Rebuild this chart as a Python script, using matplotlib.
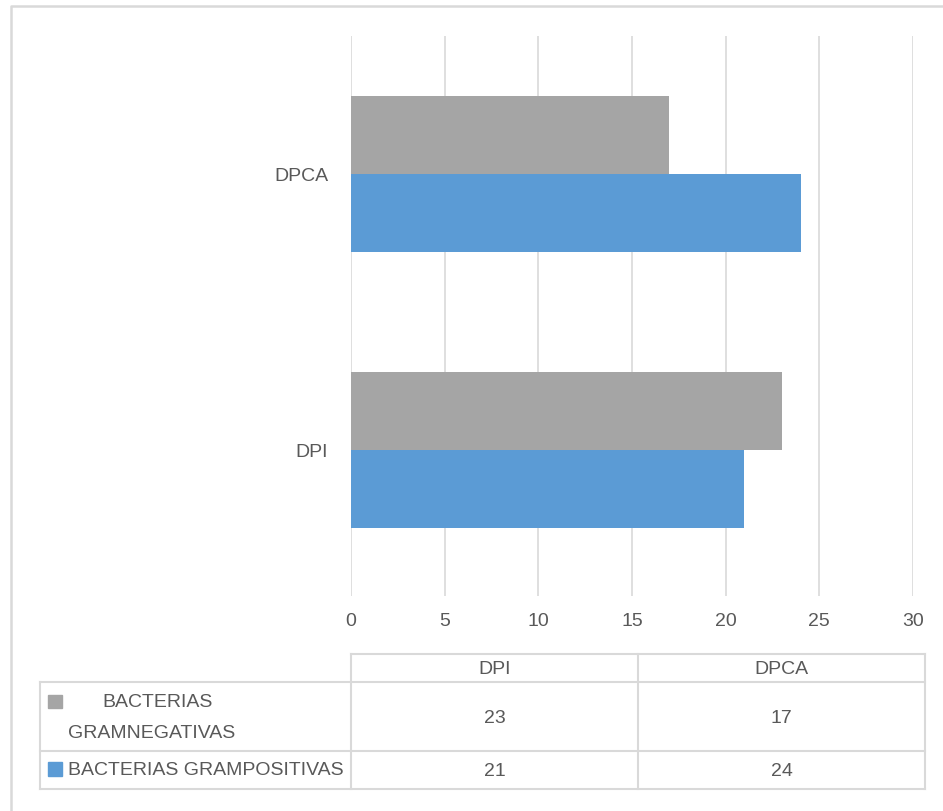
import matplotlib.pyplot as plt
from matplotlib.patches import Rectangle

categories = ["DPI", "DPCA"]
series_names = ["BACTERIAS GRAMPOSITIVAS", "BACTERIAS\nGRAMNEGATIVAS"]
grampositivas = [21, 24]
gramnegativas = [23, 17]
xticks = [0, 5, 10, 15, 20, 25, 30]

blue = "#5b9bd5"
gray = "#a5a5a5"
txt = "#595959"
grid = "#d9d9d9"

plt.rcParams["font.family"] = ["Liberation Sans", "DejaVu Sans"]

W, H = 943, 812
fig = plt.figure(figsize=(W / 100, H / 100), dpi=100)

# overlay for border + table, pixel coords
bg = fig.add_axes([0, 0, 1, 1])
bg.set_xlim(0, W)
bg.set_ylim(H, 0)
bg.axis("off")
bg.plot([11, 11, W], [H, 7, 7], color=grid, lw=1.8)

# bar chart
ax = fig.add_axes([351 / W, 1 - 597 / H, (913 - 351) / W, (597 - 37) / H])
ax.patch.set_alpha(0)
h = 0.283
ypos = list(range(len(categories)))
ax.barh([y - h / 2 for y in ypos], grampositivas, height=h, color=blue, zorder=3)
ax.barh([y + h / 2 for y in ypos], gramnegativas, height=h, color=gray, zorder=3)
ax.set_xlim(0, 30)
ax.set_ylim(-0.53, 1.5)
ax.set_xticks(xticks)
ax.set_yticks(ypos)
ax.set_yticklabels(categories)
ax.grid(axis="x", color=grid, lw=1.2, zorder=0)
for s in ax.spines.values():
    s.set_visible(False)
ax.tick_params(length=0, labelsize=14, colors=txt)
ax.tick_params(axis="x", pad=11.5)
ax.tick_params(axis="y", pad=16.5)

# data table
x0, x1, x2, x3 = 40, 351, 638, 925
y0, y1, y2, y3 = 655, 683, 752, 790
lc = grid
lw = 1.5
bg.plot([x1, x3], [y0, y0], color=lc, lw=lw)
for yy in (y1, y2, y3):
    bg.plot([x0, x3], [yy, yy], color=lc, lw=lw)
bg.plot([x0, x0], [y1, y3], color=lc, lw=lw)
for xx in (x1, x2, x3):
    bg.plot([xx, xx], [y0, y3], color=lc, lw=lw)

cx = [(x1 + x2) / 2, (x2 + x3) / 2]
for i, c in enumerate(categories):
    bg.text(cx[i], (y0 + y1) / 2 + 1, c, ha="center", va="center", fontsize=14, color=txt)

rows = [(gramnegativas, gray, (y1, y2)), (grampositivas, blue, (y2, y3))]
for vals, col, (ya, yb) in rows:
    for i, v in enumerate(vals):
        bg.text(cx[i], (ya + yb) / 2 + 1, str(v), ha="center", va="center", fontsize=14, color=txt)

bg.add_patch(Rectangle((48, 696), 14, 13, color=gray))
bg.text(102, 703, "BACTERIAS", ha="left", va="center", fontsize=14, color=txt)
bg.text(68, 734, "GRAMNEGATIVAS", ha="left", va="center", fontsize=14, color=txt)
bg.add_patch(Rectangle((48, 763), 14, 14, color=blue))
bg.text(68, 771, series_names[0], ha="left", va="center", fontsize=14, color=txt)

fig.savefig("out.png", dpi=100)
